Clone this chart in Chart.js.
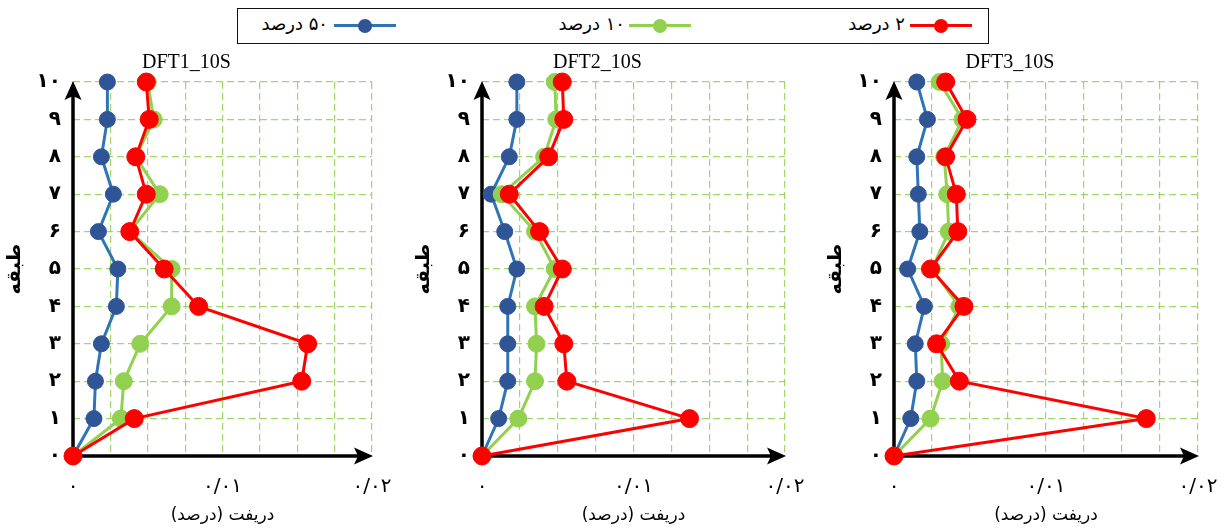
<!DOCTYPE html>
<html lang="fa">
<head>
<meta charset="utf-8">
<title>DFT drift profiles</title>
<script src="https://cdn.jsdelivr.net/npm/chart.js@4.4.1/dist/chart.umd.min.js"></script>
<style>
  html, body { margin: 0; padding: 0; background: #fff; }
  #page { position: relative; width: 1224px; height: 531px; overflow: hidden; background: #fff; }
  #page canvas { position: absolute; top: 50px; }
  #legendBox { position: absolute; left: 237px; top: 8px; width: 752px; height: 36px;
               border: 1.5px solid #111; box-sizing: border-box; }
  .lg-text { position: absolute; top: 13px; font: 18px 'DejaVu Sans', sans-serif; line-height: 22px;
             color: #000; direction: rtl; white-space: nowrap; }
  .lg-line { position: absolute; top: 24px; height: 3px; }
  .lg-dot  { position: absolute; top: 19px; width: 14px; height: 14px; border-radius: 50%; }
</style>
</head>
<body>
<div id="page">
  <div id="legendBox"></div>
  <canvas id="c0" width="425" height="481" style="left:1px"></canvas>
  <canvas id="c1" width="425" height="481" style="left:410px"></canvas>
  <canvas id="c2" width="425" height="481" style="left:822px"></canvas>
</div>
<script>
// Storeys (y axis) and their labels
const floors = [0, 1, 2, 3, 4, 5, 6, 7, 8, 9, 10];
const yTickLabels = ['۰', '۱', '۲', '۳', '۴', '۵', '۶', '۷', '۸', '۹', '۱۰'];

// Drift tick labels (x axis)
const xTickValues = [0, 0.01, 0.02];
const xTickLabels = ['۰', '۰/۰۱', '۰/۰۲'];

// Series and axis names
const seriesNames = ['۲ درصد', '۱۰ درصد', '۵۰ درصد'];
const panelTitles = ['DFT1_10S', 'DFT2_10S', 'DFT3_10S'];
const xTitle = 'دریفت (درصد)';
const yTitle = 'طبقه';

// Storey drift per floor, DFT1_10S
const dft1_p50 = [0, 0.0014, 0.0015, 0.0019, 0.0029, 0.0030, 0.0017, 0.0027, 0.0019, 0.0023, 0.0023];
const dft1_p10 = [0, 0.0032, 0.0034, 0.0045, 0.0066, 0.0066, 0.0038, 0.0058, 0.0042, 0.0054, 0.0050];
const dft1_p2  = [0, 0.0041, 0.0153, 0.0157, 0.0084, 0.0061, 0.0038, 0.0049, 0.0042, 0.0051, 0.0049];

// Storey drift per floor, DFT2_10S
const dft2_p50 = [0, 0.0011, 0.0017, 0.0017, 0.0017, 0.0023, 0.0015, 0.0006, 0.0018, 0.0023, 0.0023];
const dft2_p10 = [0, 0.0024, 0.0035, 0.0036, 0.0035, 0.0048, 0.0035, 0.0013, 0.0041, 0.0049, 0.0048];
const dft2_p2  = [0, 0.0137, 0.0056, 0.0054, 0.0041, 0.0053, 0.0038, 0.0018, 0.0044, 0.0054, 0.0053];

// Storey drift per floor, DFT3_10S
const dft3_p50 = [0, 0.0011, 0.0015, 0.0014, 0.0020, 0.0009, 0.0017, 0.0016, 0.0015, 0.0022, 0.0015];
const dft3_p10 = [0, 0.0024, 0.0032, 0.0031, 0.0043, 0.0025, 0.0036, 0.0035, 0.0033, 0.0045, 0.0030];
const dft3_p2  = [0, 0.0166, 0.0043, 0.0028, 0.0046, 0.0024, 0.0042, 0.0041, 0.0034, 0.0048, 0.0034];

const panelSeries = [
  [dft1_p2, dft1_p10, dft1_p50],
  [dft2_p2, dft2_p10, dft2_p50],
  [dft3_p2, dft3_p10, dft3_p50]
];

// Styling
const seriesStyle = [
  { line: '#ff0000', dot: '#ff0000', r: 9 },
  { line: '#92d050', dot: '#92d050', r: 8.5 },
  { line: '#2e75b6', dot: '#2f5597', r: 8 }
];
const gridColor = 'rgba(146, 208, 80, 0.85)';
const RLM = '\u200F';
const panelPadRight = [54, 50, 49];
const legendLayout = [ // [text right edge, line start] for red, green, blue
  [905, 910], [625, 629], [328, 334]
];

// HTML legend
(function buildLegend() {
  const page = document.getElementById('page');
  seriesNames.forEach((name, i) => {
    const [textRight, lineStart] = legendLayout[i];
    const st = seriesStyle[i];
    const t = document.createElement('div');
    t.className = 'lg-text';
    t.textContent = name;
    t.style.right = (1224 - textRight) + 'px';
    page.appendChild(t);
    const l = document.createElement('div');
    l.className = 'lg-line';
    l.style.left = lineStart + 'px';
    l.style.width = '62px';
    l.style.background = st.line;
    page.appendChild(l);
    const d = document.createElement('div');
    d.className = 'lg-dot';
    d.style.left = (lineStart + 24) + 'px';
    d.style.background = st.dot;
    page.appendChild(d);
  });
})();

// Black axes with arrowheads, drawn under the series
const axisArrows = {
  id: 'axisArrows',
  beforeDatasetsDraw(chart) {
    const { ctx } = chart;
    const xs = chart.scales.x, ys = chart.scales.y;
    const x0 = xs.getPixelForValue(0), xr = xs.getPixelForValue(0.02);
    const y0 = ys.getPixelForValue(0), yt = ys.getPixelForValue(10);
    ctx.save();
    ctx.strokeStyle = '#000';
    ctx.fillStyle = '#000';
    ctx.lineWidth = 3.5;
    ctx.lineCap = 'butt';
    ctx.beginPath();
    ctx.moveTo(x0, y0 + 1.5);
    ctx.lineTo(x0, yt + 12);
    ctx.moveTo(x0 - 1.5, y0);
    ctx.lineTo(xr - 12, y0);
    ctx.stroke();
    // vertical arrowhead
    ctx.beginPath();
    ctx.moveTo(x0, yt - 1);
    ctx.lineTo(x0 - 8.5, yt + 18);
    ctx.lineTo(x0, yt + 14);
    ctx.lineTo(x0 + 8.5, yt + 18);
    ctx.closePath();
    ctx.fill();
    // horizontal arrowhead
    ctx.beginPath();
    ctx.moveTo(xr + 1, y0);
    ctx.lineTo(xr - 18, y0 - 8.5);
    ctx.lineTo(xr - 14, y0);
    ctx.lineTo(xr - 18, y0 + 8.5);
    ctx.closePath();
    ctx.fill();
    ctx.restore();
  }
};

function xLabel(v) {
  for (let i = 0; i < xTickValues.length; i++) {
    if (Math.abs(v - xTickValues[i]) < 1e-9) return xTickLabels[i];
  }
  return '';
}

function makePanel(p) {
  const datasets = panelSeries[p].map((vals, i) => {
    const st = seriesStyle[i];
    return {
      label: seriesNames[i],
      data: floors.map((f, k) => ({ x: vals[k], y: f })),
      showLine: true,
      borderColor: st.line,
      borderWidth: 3,
      backgroundColor: st.dot,
      pointBackgroundColor: st.dot,
      pointBorderColor: st.dot,
      pointBorderWidth: 1,
      pointRadius: st.r,
      pointHoverRadius: st.r,
      tension: 0,
      clip: false
    };
  });

  new Chart(document.getElementById('c' + p), {
    type: 'scatter',
    data: { datasets },
    options: {
      responsive: false,
      animation: false,
      devicePixelRatio: 1,
      events: [],
      layout: { padding: { top: 0, left: 0, right: panelPadRight[p], bottom: 0 } },
      plugins: {
        legend: { display: false },
        tooltip: { enabled: false },
        title: {
          display: true,
          text: panelTitles[p],
          color: '#000',
          font: { family: "'Liberation Serif', serif", size: 20, weight: 'normal' },
          padding: { top: 1, bottom: 7 }
        }
      },
      scales: {
        x: {
          type: 'linear',
          min: 0,
          max: 0.02,
          afterFit(s) { s.height = 75; },
          grid: { color: gridColor, lineWidth: 1.2, drawTicks: false },
          border: { display: false, dash: [7, 4] },
          ticks: {
            stepSize: 0.0025,
            autoSkip: false,
            maxRotation: 0,
            minRotation: 0,
            padding: 19,
            color: '#000',
            font: { family: "'DejaVu Sans', sans-serif", size: 20 },
            callback: v => xLabel(v)
          },
          title: {
            display: true,
            text: RLM + xTitle + RLM,
            color: '#000',
            font: { family: "'DejaVu Sans', sans-serif", size: 17 },
            padding: { top: 0, bottom: 5 }
          }
        },
        y: {
          type: 'linear',
          min: 0,
          max: 10,
          afterFit(s) { s.width = 72; },
          grid: { color: gridColor, lineWidth: 1.2, drawTicks: false },
          border: { display: false, dash: [7, 4] },
          ticks: {
            stepSize: 1,
            padding: 12,
            color: '#000',
            font: { family: "'DejaVu Sans', sans-serif", size: 20, weight: 'bold' },
            callback: v => yTickLabels[v]
          },
          title: {
            display: true,
            text: yTitle,
            color: '#000',
            font: { family: "'DejaVu Sans', sans-serif", size: 19, weight: 'bold' },
            padding: { top: 3, bottom: 0 }
          }
        }
      }
    },
    plugins: [axisArrows]
  });
}

[0, 1, 2].forEach(makePanel);
</script>
</body>
</html>
